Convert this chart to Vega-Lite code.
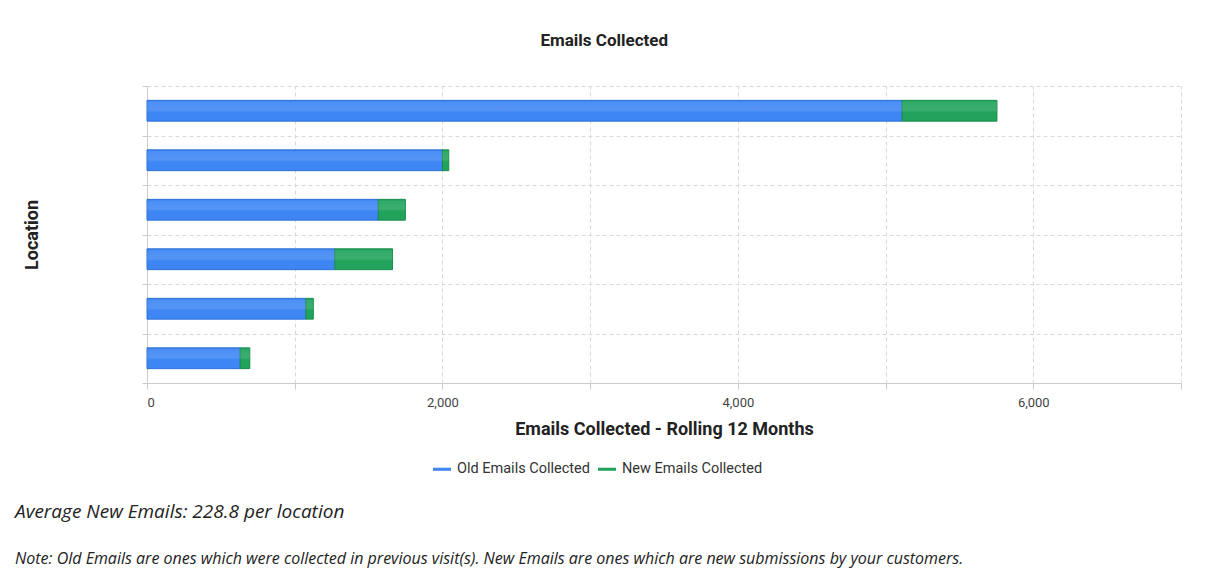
{
  "$schema": "https://vega.github.io/schema/vega-lite/v6.json",
  "background": "white",
  "padding": {"left": 15, "top": 31, "right": 5, "bottom": 5},
  "spacing": 64,
  "config": {
    "view": {"stroke": null},
    "font": "Roboto"
  },
  "title": {
    "text": "Emails Collected",
    "font": "Roboto",
    "fontSize": 17,
    "fontWeight": "bold",
    "color": "#222",
    "anchor": "middle",
    "offset": 36,
    "dx": 6
  },
  "datasets": {
    "emails": [
      {"location": "Location A", "type": "Old Emails Collected", "emails": 5112},
      {"location": "Location A", "type": "New Emails Collected", "emails": 642},
      {"location": "Location B", "type": "Old Emails Collected", "emails": 2000},
      {"location": "Location B", "type": "New Emails Collected", "emails": 43},
      {"location": "Location C", "type": "Old Emails Collected", "emails": 1566},
      {"location": "Location C", "type": "New Emails Collected", "emails": 183},
      {"location": "Location D", "type": "Old Emails Collected", "emails": 1272},
      {"location": "Location D", "type": "New Emails Collected", "emails": 390},
      {"location": "Location E", "type": "Old Emails Collected", "emails": 1076},
      {"location": "Location E", "type": "New Emails Collected", "emails": 50},
      {"location": "Location F", "type": "Old Emails Collected", "emails": 631},
      {"location": "Location F", "type": "New Emails Collected", "emails": 65}
    ]
  },
  "vconcat": [
    {
      "width": 1034,
      "height": 297,
      "data": {"name": "emails"},
      "encoding": {
        "y": {
          "field": "location",
          "type": "nominal",
          "sort": ["Location A", "Location B", "Location C", "Location D", "Location E", "Location F"],
          "scale": {"paddingInner": 0, "paddingOuter": 0},
          "axis": {
            "title": "Location",
            "labels": false,
            "tickBand": "extent",
            "grid": true,
            "gridDash": [4, 3],
            "gridColor": "#d9d9d9",
            "tickColor": "#cccccc",
            "tickSize": 5,
            "domainColor": "#cccccc",
            "titleFont": "Roboto",
            "titleFontSize": 18,
            "titleFontWeight": "bold",
            "titleColor": "#222",
            "titlePadding": 100
          }
        },
        "x": {
          "field": "emails",
          "type": "quantitative",
          "stack": "zero",
          "scale": {"domain": [0, 7000], "nice": false},
          "axis": {
            "values": [0, 1000, 2000, 3000, 4000, 5000, 6000, 7000],
            "format": ",d",
            "labelExpr": "datum.value % 2000 === 0 ? datum.label : ''",
            "grid": true,
            "gridDash": [4, 3],
            "gridColor": "#d9d9d9",
            "tickColor": "#cccccc",
            "tickSize": 6,
            "domainColor": "#cccccc",
            "labelFont": "Roboto",
            "labelFontSize": 13,
            "labelColor": "#444",
            "labelPadding": 7,
            "title": "Emails Collected - Rolling 12 Months",
            "titleFont": "Roboto",
            "titleFontSize": 18,
            "titleFontWeight": "bold",
            "titleColor": "#222",
            "titlePadding": 11
          }
        },
        "detail": {"field": "type"},
        "order": {"field": "type", "sort": "descending"}
      },
      "layer": [
        {
          "mark": {"type": "bar", "height": {"band": 0.42}, "strokeWidth": 1},
          "encoding": {
            "color": {
              "field": "type",
              "type": "nominal",
              "scale": {
                "domain": ["Old Emails Collected", "New Emails Collected"],
                "range": ["#3d86f4", "#21a35c"]
              },
              "legend": {
                "title": null,
                "orient": "none",
                "direction": "horizontal",
                "legendX": 286,
                "legendY": 374,
                "symbolType": "M-1,-0.17L1,-0.17L1,0.17L-1,0.17Z",
                "symbolSize": 324,
                "symbolStrokeWidth": 0,
                "labelFont": "Roboto",
                "labelFontSize": 14.5,
                "labelColor": "#333",
                "labelOffset": 6,
                "columnPadding": 8
              }
            },
            "stroke": {
              "field": "type",
              "type": "nominal",
              "scale": {
                "domain": ["Old Emails Collected", "New Emails Collected"],
                "range": ["#2f6fd6", "#188c4a"]
              },
              "legend": null
            }
          }
        },
        {
          "mark": {
            "type": "bar",
            "height": {"band": 0.36},
            "strokeWidth": 0,
            "fill": {
              "gradient": "linear",
              "x1": 0, "y1": 0, "x2": 0, "y2": 1,
              "stops": [
                {"offset": 0, "color": "rgba(255,255,255,0.08)"},
                {"offset": 0.45, "color": "rgba(255,255,255,0.12)"},
                {"offset": 0.6, "color": "rgba(255,255,255,0)"},
                {"offset": 1, "color": "rgba(255,255,255,0)"}
              ]
            }
          }
        }
      ]
    },
    {
      "width": 1034,
      "height": 1,
      "data": {"name": "emails"},
      "mark": {"type": "text", "opacity": 0},
      "encoding": {"text": {"value": ""}},
      "title": {
        "text": "Average New Emails: 228.8 per location",
        "subtitle": "Note: Old Emails are ones which were collected in previous visit(s). New Emails are ones which are new submissions by your customers.",
        "anchor": "start",
        "frame": "bounds",
        "dx": -132,
        "font": "Open Sans",
        "fontSize": 19,
        "fontStyle": "italic",
        "fontWeight": "normal",
        "color": "#222",
        "subtitleFont": "Open Sans",
        "subtitleFontSize": 16,
        "subtitleFontStyle": "italic",
        "subtitleColor": "#222",
        "subtitlePadding": 29,
        "offset": 2
      }
    }
  ]
}
